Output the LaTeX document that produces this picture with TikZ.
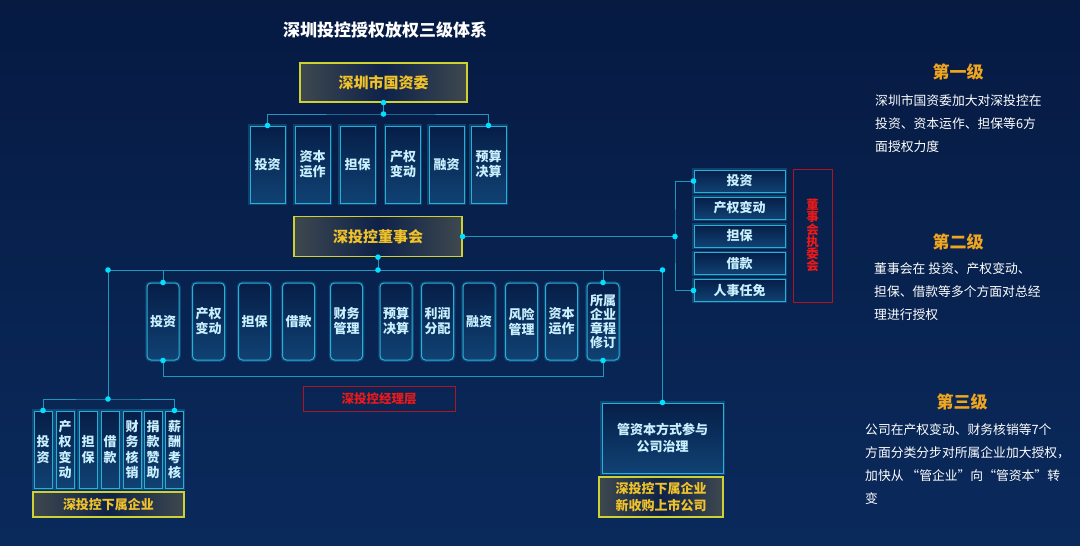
\documentclass[tikz,border=0pt]{standalone}
\usepackage{fontspec}
\setmainfont{Noto Sans CJK SC}
\usepackage{tikz}

\definecolor{bgtop}{RGB}{6,26,66}
\definecolor{bgbot}{RGB}{10,42,92}
\definecolor{lnc}{RGB}{30,150,190}
\definecolor{dotc}{RGB}{0,225,255}
\definecolor{cyb}{RGB}{40,175,215}
\definecolor{cyt}{RGB}{200,240,255}
\definecolor{cftop}{RGB}{6,30,72}
\definecolor{cfbot}{RGB}{16,66,115}
\definecolor{yeb}{RGB}{205,210,50}
\definecolor{yet}{RGB}{242,195,40}
\definecolor{yedge}{RGB}{62,72,78}
\definecolor{ymid}{RGB}{14,34,74}
\definecolor{redb}{RGB}{175,20,35}
\definecolor{redt}{RGB}{235,25,25}
\definecolor{orgt}{RGB}{240,165,30}

\tikzset{
    ln/.style={draw=lnc, line width=1pt},
    cbox/.style={draw=cyb, line width=1pt, top color=cftop, bottom color=cfbot,
        text=cyt, align=center, inner sep=0pt,
        font=\bfseries\fontsize{13}{15}\selectfont,
        preaction={draw=cyb, line width=3.5pt, opacity=0.25}},
    rowa/.style={cbox, minimum width=35pt, minimum height=77pt},
    rowb/.style={cbox, rounded corners=4pt, minimum width=32pt, minimum height=77pt},
    rowc/.style={cbox, minimum width=18pt, minimum height=77pt, font=\bfseries\fontsize{13}{15.5}\selectfont},
    rowr/.style={cbox, minimum width=91pt, minimum height=22pt},
    ybox/.style={draw=yeb, line width=1.2pt, left color=yedge, right color=yedge, middle color=ymid,
        text=yet, align=center, inner sep=0pt,
        font=\bfseries\fontsize{13}{16.5}\selectfont},
    rbox/.style={draw=redb, line width=1pt, text=redt, align=center, inner sep=0pt,
        font=\bfseries\fontsize{12.5}{12.5}\selectfont},
    ttl/.style={text=white, font=\bfseries\fontsize{17}{17}\selectfont},
    hd/.style={text=orgt, font=\bfseries\fontsize{17}{17}\selectfont},
    txt/.style={text=white, align=left, inner sep=0pt, anchor=north west,
        font=\fontsize{12.8}{23}\selectfont}
}

\begin{document}
\begin{tikzpicture}[x=1pt,y=-1pt]
    \useasboundingbox (0,0) rectangle (1080,546);
    \shade[top color=bgtop, bottom color=bgbot] (0,0) rectangle (1080,546);

    \node[ttl] (title) at (385,30) {深圳投控授权放权三级体系};

    % 国资委 level
    \node[ybox, minimum width=167pt, minimum height=39pt, font=\bfseries\fontsize{15}{15}\selectfont] (gzw) at (383.5,82.5) {深圳市国资委};
    \node[rowa] (t1) at (267.5,164.5) {投资};
    \node[rowa] (t2) at (312.5,164.5) {资本\\运作};
    \node[rowa] (t3) at (357.5,164.5) {担保};
    \node[rowa] (t4) at (403,164.5) {产权\\变动};
    \node[rowa] (t5) at (446.5,164.5) {融资};
    \node[rowa] (t6) at (488.5,164.5) {预算\\决算};

    % 董事会 level
    \node[ybox, minimum width=168pt, minimum height=40pt, font=\bfseries\fontsize{15}{15}\selectfont] (board) at (378,236.5) {深投控董事会};
    \node[rowr] (r1) at (739.5,181) {投资};
    \node[rowr] (r2) at (739.5,208) {产权变动};
    \node[rowr] (r3) at (739.5,236) {担保};
    \node[rowr] (r4) at (739.5,263.5) {借款};
    \node[rowr] (r5) at (739.5,290.5) {人事任免};
    \node[rbox, minimum width=39pt, minimum height=133pt, font=\bfseries\fontsize{12.5}{12}\selectfont] (zwh) at (812.5,235.5) {董\\事\\会\\执\\委\\会};

    \node[rowb] (b1) at (163,321.5) {投资};
    \node[rowb] (b2) at (208.5,321.5) {产权\\变动};
    \node[rowb] (b3) at (254.5,321.5) {担保};
    \node[rowb] (b4) at (298.5,321.5) {借款};
    \node[rowb] (b5) at (346.5,321.5) {财务\\管理};
    \node[rowb] (b6) at (396,321.5) {预算\\决算};
    \node[rowb] (b7) at (437.5,321.5) {利润\\分配};
    \node[rowb] (b8) at (479,321.5) {融资};
    \node[rowb] (b9) at (521.5,321.5) {风险\\管理};
    \node[rowb] (b10) at (561.5,321.5) {资本\\运作};
    \node[rowb, font=\bfseries\fontsize{13}{14}\selectfont] (b11) at (603,321.5) {所属\\企业\\章程\\修订};
    \node[rbox, minimum width=152pt, minimum height=25pt] (jlc) at (379,398.5) {深投控经理层};

    % 下属企业 level
    \node[rowc] (c1) at (43,449.5) {投\\资};
    \node[rowc] (c2) at (65,449.5) {产\\权\\变\\动};
    \node[rowc] (c3) at (88,449.5) {担\\保};
    \node[rowc] (c4) at (110,449.5) {借\\款};
    \node[rowc] (c5) at (132,449.5) {财\\务\\核\\销};
    \node[rowc] (c6) at (153,449.5) {捐\\款\\赞\\助};
    \node[rowc] (c7) at (174.5,449.5) {薪\\酬\\考\\核};
    \node[ybox, minimum width=151pt, minimum height=25pt] (xsqy) at (108.5,504.5) {深投控下属企业};
    \node[cbox, minimum width=121pt, minimum height=70pt, font=\bfseries\fontsize{13}{16.5}\selectfont] (gz) at (662.5,438) {管资本方式参与\\公司治理};
    \node[ybox, minimum width=124pt, minimum height=40pt] (ssgs) at (661,497) {深投控下属企业\\新收购上市公司};

    % connectors
    \coordinate (j1) at (383.5,114);
    \draw[ln] (gzw.south) -- (j1);
    \draw[ln] (t1.north) |- (j1) -| (t6.north);

    \coordinate (jr) at (675,236.5);
    \draw[ln] (board.east) -- (jr);
    \draw[ln] (r1.west) -| (jr) |- (r5.west);

    \coordinate (j2) at (378,270);
    \coordinate (jl) at (108,270);
    \coordinate (jR) at (662.5,270);
    \coordinate (jl2) at (108,399);
    \draw[ln] (board.south) -- (j2);
    \draw[ln] (jl) -- (jR);
    \draw[ln] (b1.north) -- (b1.north |- j2);
    \draw[ln] (b11.north) -- (b11.north |- j2);
    \draw[ln] (jR) -- (gz.north);
    \draw[ln] (b1.south) -- ++(0,16) -| (b11.south);
    \draw[ln] (jl) -- (jl2);
    \draw[ln] (c1.north) |- (jl2) -| (c7.north);

    \fill[dotc] (gzw.south) circle(2.8pt);
    \fill[dotc] (j1) circle(2.8pt);
    \fill[dotc] (t1.north) circle(2.8pt);
    \fill[dotc] (t6.north) circle(2.8pt);
    \fill[dotc] (board.east) circle(2.8pt);
    \fill[dotc] (jr) circle(2.8pt);
    \fill[dotc] (r1.west) circle(2.8pt);
    \fill[dotc] (r5.west) circle(2.8pt);
    \fill[dotc] (board.south) circle(2.8pt);
    \fill[dotc] (j2) circle(2.8pt);
    \fill[dotc] (jl) circle(2.8pt);
    \fill[dotc] (jR) circle(2.8pt);
    \fill[dotc] (b1.north) circle(2.8pt);
    \fill[dotc] (b11.north) circle(2.8pt);
    \fill[dotc] (b1.south) circle(2.8pt);
    \fill[dotc] (b11.south) circle(2.8pt);
    \fill[dotc] (jl2) circle(2.8pt);
    \fill[dotc] (c1.north) circle(2.8pt);
    \fill[dotc] (c7.north) circle(2.8pt);
    \fill[dotc] (gz.north) circle(2.8pt);

    % right panel
    \node[hd] (h1) at (958,72) {第一级};
    \node[txt] (p1) at (875,94) {深圳市国资委加大对深投控在\\投资、资本运作、担保等6方\\面授权力度};
    \node[hd] (h2) at (958,242) {第二级};
    \node[txt] (p2) at (874,262) {董事会在 投资、产权变动、\\担保、借款等多个方面对总经\\理进行授权};
    \node[hd] (h3) at (962,402) {第三级};
    \node[txt] (p3) at (865,423) {公司在产权变动、财务核销等7个\\方面分类分步对所属企业加大授权，\\加快从 “管企业”向“管资本”转\\变};
\end{tikzpicture}
\end{document}
